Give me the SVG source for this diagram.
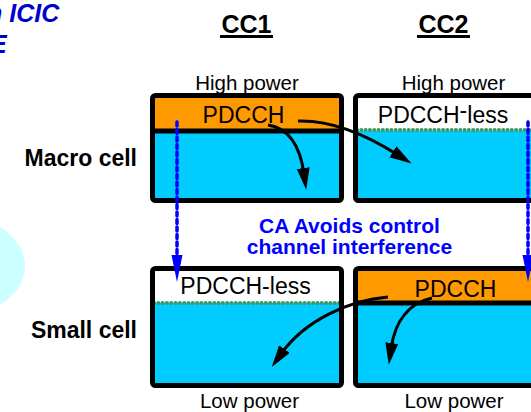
<svg xmlns="http://www.w3.org/2000/svg" width="531" height="412" viewBox="0 0 531 412">
<style>
.t{font-family:"Liberation Sans",Arial,sans-serif;fill:#000}
.lbl{font-size:20.5px;text-anchor:middle}
.ch{font-size:23px;text-anchor:middle}
.side{font-size:23px;font-weight:bold;text-anchor:end}
.hdr{font-size:25px;font-weight:bold;text-anchor:middle}
.title{font-family:"Liberation Sans",Arial,sans-serif;font-size:25px;font-weight:bold;font-style:italic;fill:#0000CC}
.note{font-family:"Liberation Sans",Arial,sans-serif;font-size:21px;font-weight:bold;fill:#0000FF;text-anchor:middle}
.frame{fill:none;stroke:#000;stroke-width:5}
.orange{fill:#FF9900}
.blue{fill:#00CCFF}
.white{fill:#FFFFFF}
.div{stroke:#000;stroke-width:5}
.dot{stroke:#3A9A6A;stroke-width:4;stroke-linecap:round;stroke-dasharray:0.1 4.2}
.bl{fill:none;stroke:#000;stroke-width:3}
.bd{fill:none;stroke:#0000FF;stroke-width:3.5;stroke-linecap:round;stroke-dasharray:4 3.5}
</style>
<defs>
<marker id="ah" markerUnits="userSpaceOnUse" markerWidth="24" markerHeight="14" refX="6" refY="6.5" orient="auto">
<path d="M0,0 L22,6.5 L0,13 z" fill="#000"/>
</marker>
<marker id="bh" markerUnits="userSpaceOnUse" markerWidth="28" markerHeight="12" refX="1" refY="5.5" orient="auto">
<path d="M0,0 L27,5.5 L0,11 z" fill="#0000FF"/>
</marker>
</defs>
<rect width="531" height="412" fill="#fff"/>
<ellipse cx="-55" cy="266" rx="80" ry="54" fill="#CCFFFF"/>
<g id="title">
<text class="title" x="-13" y="22">n ICIC</text>
<text class="title" x="-10" y="53">E</text>
</g>
<g id="cc1-header">
<text class="t hdr" x="246.5" y="33">CC1</text>
<line x1="220" y1="36.5" x2="273" y2="36.5" stroke="#000" stroke-width="3"/>
</g>
<g id="cc2-header">
<text class="t hdr" x="443.5" y="33">CC2</text>
<line x1="417" y1="36.5" x2="470" y2="36.5" stroke="#000" stroke-width="3"/>
</g>
<g id="macro-label"><text class="t side" x="137" y="166">Macro cell</text></g>
<g id="small-label"><text class="t side" x="137" y="338">Small cell</text></g>
<g id="macro-cc1">
<text class="t lbl" x="247" y="90">High power</text>
<rect class="orange" x="152" y="97" width="190" height="34"/>
<rect class="blue" x="152" y="131" width="190" height="69"/>
<line class="div" x1="152" y1="131" x2="342" y2="131"/>
<rect class="frame" x="152.5" y="95.5" width="189" height="105" rx="3"/>
<text class="t ch" x="243.5" y="123">PDCCH</text>
</g>
<g id="macro-cc2">
<text class="t lbl" x="453.5" y="90">High power</text>
<rect class="white" x="355" y="97" width="190" height="34"/>
<rect class="blue" x="355" y="131" width="190" height="69"/>
<line class="dot" x1="357" y1="130" x2="531" y2="130"/>
<rect class="frame" x="355.5" y="95.5" width="189" height="105" rx="3"/>
<text class="t ch" x="443" y="123">PDCCH<tspan dy="-5">-</tspan><tspan dy="5">less</tspan></text>
</g>
<g id="small-cc1">
<rect class="white" x="152" y="270" width="190" height="33"/>
<rect class="blue" x="152" y="303" width="190" height="83"/>
<line class="dot" x1="154" y1="303" x2="341" y2="303"/>
<rect class="frame" x="152.5" y="268.5" width="189" height="117" rx="3"/>
<text class="t ch" x="245.5" y="294">PDCCH-less</text>
<text class="t lbl" x="249.5" y="408">Low power</text>
</g>
<g id="small-cc2">
<rect class="orange" x="355" y="270" width="190" height="33"/>
<rect class="blue" x="355" y="303" width="190" height="83"/>
<line class="div" x1="355" y1="303" x2="545" y2="303"/>
<rect class="frame" x="355.5" y="268.5" width="189" height="117" rx="3"/>
<text class="t ch" x="455.5" y="297">PDCCH</text>
<text class="t lbl" x="454" y="408">Low power</text>
</g>
<g id="note">
<text class="note" x="349.5" y="233">CA Avoids control</text>
<text class="note" x="349.5" y="254">channel interference</text>
</g>
<g id="connectors">
<path class="bl" d="M268,125 C288,128 300,145 304,174" marker-end="url(#ah)"/>
<path class="bl" d="M298,121 C330,120 365,134 398,155" marker-end="url(#ah)"/>
<path class="bl" d="M388,297 C350,300 305,320 281,354" marker-end="url(#ah)"/>
<path class="bl" d="M432,298 C410,303 395,320 391,349" marker-end="url(#ah)"/>
<line class="bd" x1="177" y1="122" x2="177" y2="256" marker-end="url(#bh)"/>
<line class="bd" x1="528" y1="122" x2="528" y2="256" marker-end="url(#bh)"/>
</g>
</svg>
